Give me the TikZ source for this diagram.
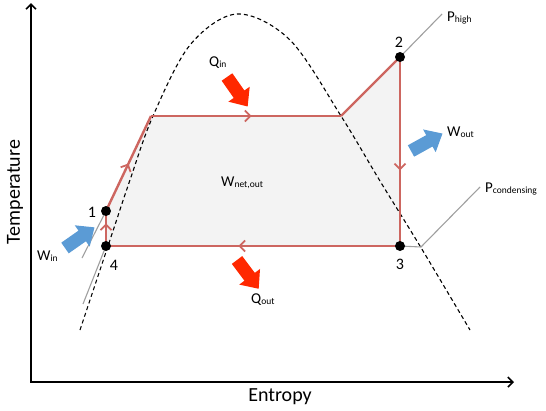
\documentclass[tikz,border=0pt]{standalone}
\usepackage{fontspec}
\setmainfont{Carlito}
\usetikzlibrary{arrows.meta,decorations.markings}
\definecolor{cyc}{RGB}{205,102,96}
\definecolor{hotred}{RGB}{255,40,0}
\definecolor{wblue}{RGB}{91,155,213}
\definecolor{areagray}{RGB}{243,243,243}
\newcommand\sublab[2]{{\fontsize{15}{15}\selectfont #1}\raisebox{-1pt}{\fontsize{9.5}{9.5}\selectfont #2}}
\newcommand\blockarr[3]{%
  \begin{scope}[shift={#1},rotate=#2]
    \fill[#3] (0,-6.5) -- (21,-6.5) -- (21,-13) -- (36,0) -- (21,13) -- (21,6.5) -- (0,6.5) -- cycle;
  \end{scope}}
\begin{document}
\begin{tikzpicture}[x=1pt,y=-1pt,
  cycline/.style={draw=cyc,line width=2.4pt,line join=miter},
  midarrow/.style={postaction={decorate},decoration={markings,mark=at position #1 with {\arrow[cyc]{Straight Barb[length=5.5pt,width=11pt,line width=1.8pt]}}}},
  guide/.style={draw=gray!75,line width=1.1pt},
  dome/.style={draw=black,line width=1.1pt,dash pattern=on 4pt off 3pt},
  pt/.style={circle,fill=black,inner sep=0pt,minimum size=10pt},
  lbl/.style={inner sep=0pt,font=\fontsize{16}{16}\selectfont},
  axlbl/.style={inner sep=0pt,font=\fontsize{20}{20}\selectfont}]
\useasboundingbox (0,0) rectangle (546,410);
% coordinates
\coordinate (p4) at (106,246);
\coordinate (p1) at (106,211);
\coordinate (pA) at (151,116);
\coordinate (pB) at (341,116);
\coordinate (p2) at (400,57);
\coordinate (p3) at (400,246);
% shaded area
\fill[areagray] (p4) -- (p1) -- (pA) -- (pB) -- (p2) -- (p3) -- cycle;
% dome
\draw[dome] plot[smooth,tension=0.55] coordinates {(80,330) (108,246) (130,180) (153,116) (190,45) (237,14) (290,40) (341,116) (380,181) (420,246) (470,330)};
% axes
\coordinate (o) at (31,382);
\coordinate (ytop) at (31,3);
\coordinate (xend) at (514,382);
\draw[line width=1.8pt,-{Straight Barb[length=5pt,width=10pt,line width=1.6pt]}] (o) -- (ytop);
\draw[line width=1.8pt,-{Straight Barb[length=5pt,width=10pt,line width=1.6pt]}] ([xshift=-0.9pt]o) -- (xend);
% guide lines
\coordinate (g1) at (82,258);
\coordinate (g4) at (83,304);
\coordinate (gh) at (442,14);
\coordinate (gc) at (421,247);
\coordinate (gce) at (480,187);
\draw[guide] (g1) -- (p1);
\draw[guide] (g4) -- (p4);
\draw[guide] (p2) -- (gh);
\draw[guide] (p3) -- (gc) -- (gce);
% cycle
\draw[cycline,midarrow=0.65] (p4) -- (p1);
\draw[cycline,midarrow=0.5] (p1) -- (pA);
\draw[cycline,midarrow=0.53] (pA) -- (pB);
\draw[cycline] (pB) -- (p2);
\draw[cycline,midarrow=0.6] (p2) -- (p3);
\draw[cycline,midarrow=0.55] (p3) -- (p4);
% points
\node[pt] (n1) at (p1) {};
\node[pt] (n2) at (p2) {};
\node[pt] (n3) at (p3) {};
\node[pt] (n4) at (p4) {};
% block arrows
\blockarr{(65,248)}{35}{wblue}
\blockarr{(411,151)}{29}{wblue}
\blockarr{(227,77)}{-55}{hotred}
\blockarr{(237,260)}{-53}{hotred}
% labels
\node[lbl] (l1) at (92,212) {1};
\node[lbl] (l2) at (399,42) {2};
\node[lbl] (l3) at (400,264) {3};
\node[lbl] (l4) at (114,265) {4};
\node[inner sep=0pt,anchor=west] (ph) at (447,18) {\sublab{P}{high}};
\node[inner sep=0pt,anchor=west] (pc) at (485,189) {\sublab{P}{condensing}};
\node[inner sep=0pt,anchor=west] (win) at (37,256) {\sublab{W}{in}};
\node[inner sep=0pt,anchor=west] (wout) at (447,132) {\sublab{W}{out}};
\node[inner sep=0pt,anchor=west] (qin) at (209,63) {\sublab{Q}{in}};
\node[inner sep=0pt,anchor=west] (qout) at (251,300) {\sublab{Q}{out}};
\node[inner sep=0pt,anchor=west] (wnet) at (221,183) {\sublab{W}{net,out}};
\node[axlbl,rotate=90] (tl) at (15,192) {Temperature};
\node[axlbl] (el) at (280,397) {Entropy};
\end{tikzpicture}
\end{document}
